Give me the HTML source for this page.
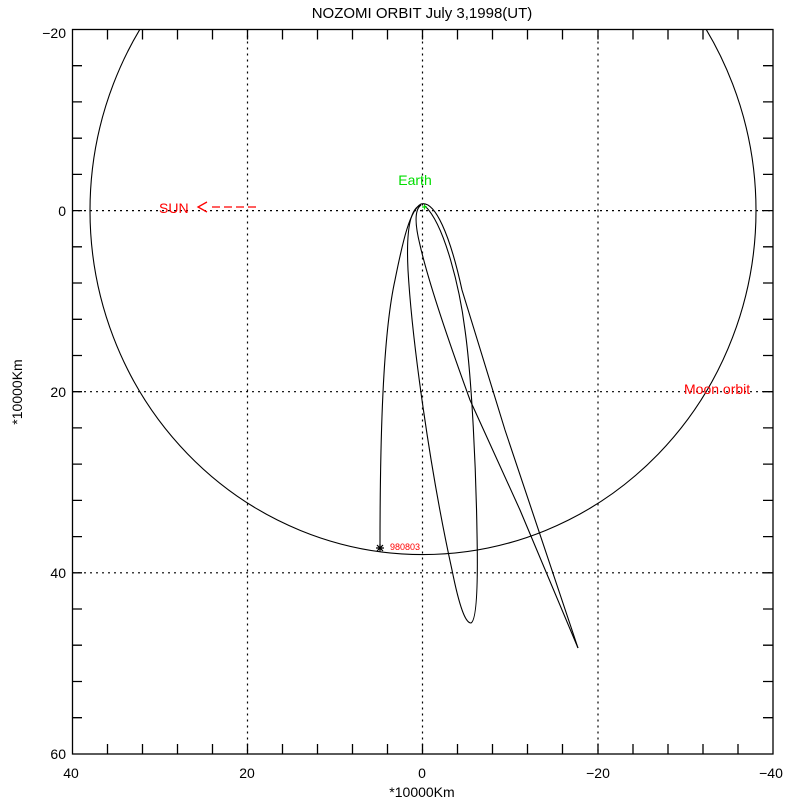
<!DOCTYPE html>
<html><head><style>body{margin:0;background:#fff}svg{display:block}text{font-family:"Liberation Sans",sans-serif}</style></head><body>
<svg width="800" height="800" viewBox="0 0 800 800" xmlns="http://www.w3.org/2000/svg">
<defs><clipPath id="c"><rect x="72" y="29.5" width="701" height="724.5"/></clipPath></defs>
<g stroke="#000" stroke-width="1.2" stroke-dasharray="2,4" fill="none">
<line x1="247.5" y1="29.5" x2="247.5" y2="754"/><line x1="422.5" y1="29.5" x2="422.5" y2="754"/><line x1="598" y1="29.5" x2="598" y2="754"/>
<line x1="72" y1="210.6" x2="773" y2="210.6"/><line x1="72" y1="391.7" x2="773" y2="391.7"/><line x1="72" y1="572.8" x2="773" y2="572.8"/>
</g>
<g stroke="#000" stroke-width="1.3" fill="none">
<rect x="72.5" y="29.5" width="700.5" height="724.5"/>
<path d="M107.5 754v-10M142.5 754v-10M177.5 754v-10M212.5 754v-10M247.5 754v-10M282.5 754v-10M317.5 754v-10M352.5 754v-10M387.5 754v-10M422.5 754v-10M457.5 754v-10M492.5 754v-10M527.5 754v-10M562.5 754v-10M598 754v-10M633 754v-10M668 754v-10M703 754v-10M738 754v-10
M107.5 29.5v10M142.5 29.5v10M177.5 29.5v10M212.5 29.5v10M247.5 29.5v10M282.5 29.5v10M317.5 29.5v10M352.5 29.5v10M387.5 29.5v10M422.5 29.5v10M457.5 29.5v10M492.5 29.5v10M527.5 29.5v10M562.5 29.5v10M598 29.5v10M633 29.5v10M668 29.5v10M703 29.5v10M738 29.5v10
M72 65.7h10M72 101.9h10M72 138.2h10M72 174.4h10M72 210.6h10M72 246.8h10M72 283h10M72 319.3h10M72 355.5h10M72 391.7h10M72 427.9h10M72 464.1h10M72 500.4h10M72 536.6h10M72 572.8h10M72 609h10M72 645.2h10M72 681.5h10M72 717.7h10
M773 65.7h-10M773 101.9h-10M773 138.2h-10M773 174.4h-10M773 210.6h-10M773 246.8h-10M773 283h-10M773 319.3h-10M773 355.5h-10M773 391.7h-10M773 427.9h-10M773 464.1h-10M773 500.4h-10M773 536.6h-10M773 572.8h-10M773 609h-10M773 645.2h-10M773 681.5h-10M773 717.7h-10"/>
</g>
<g clip-path="url(#c)" fill="none" stroke="#000" stroke-width="1.1">
<ellipse cx="423" cy="210.6" rx="333" ry="344"/>
<path d="M380,548 C380,420 384,330 395,280 C403,240 410,210 421,204 C435,200 450,235 462,290 L505,430 L578,648"/>
<path d="M578,648 L520,510 L470,400 C450,345 428,280 420,245 C415,225 414,210 421,205"/>
<path d="M421,205 C410,208 406,230 408,270 C412,340 430,470 452,570 C460,610 466,623 471,623 C477,620 478,580 477,533 C476,470 472,380 465,330 C460,290 445,225 425,206"/>
</g>
<g stroke="#000" stroke-width="1.2"><path d="M376 548h8M380 544v8M377 545l6 6M383 545l-6 6"/></g>
<g stroke="#00dd00" stroke-width="1.2"><path d="M422 207h5M424.5 204.5v5"/></g>
<text x="390" y="550" font-size="9" fill="#ff0000">980803</text>
<text x="415" y="185" font-size="14" fill="#00dd00" text-anchor="middle">Earth</text>
<text x="159" y="213" font-size="14" fill="#ff0000">SUN</text>
<g stroke="#ff0000" stroke-width="1.3" fill="none"><path d="M207 202l-9 5 9 5"/><line x1="212" y1="207" x2="257" y2="207" stroke-dasharray="8,4"/></g>
<text x="684" y="394" font-size="14" fill="#ff0000">Moon orbit</text>
<text x="422" y="18" font-size="15" text-anchor="middle">NOZOMI ORBIT July 3,1998(UT)</text>
<g font-size="14" text-anchor="end">
<text x="66" y="38">−20</text><text x="66" y="216">0</text><text x="66" y="397">20</text><text x="66" y="578">40</text><text x="66" y="759">60</text>
</g>
<g font-size="14" text-anchor="middle">
<text x="71" y="778">40</text><text x="247" y="778">20</text><text x="422" y="778">0</text><text x="598" y="778">−20</text><text x="771" y="778">−40</text>
<text x="422" y="797">*10000Km</text>
</g>
<text transform="translate(22,392) rotate(-90)" font-size="14" text-anchor="middle">*10000Km</text>
</svg>
</body></html>
